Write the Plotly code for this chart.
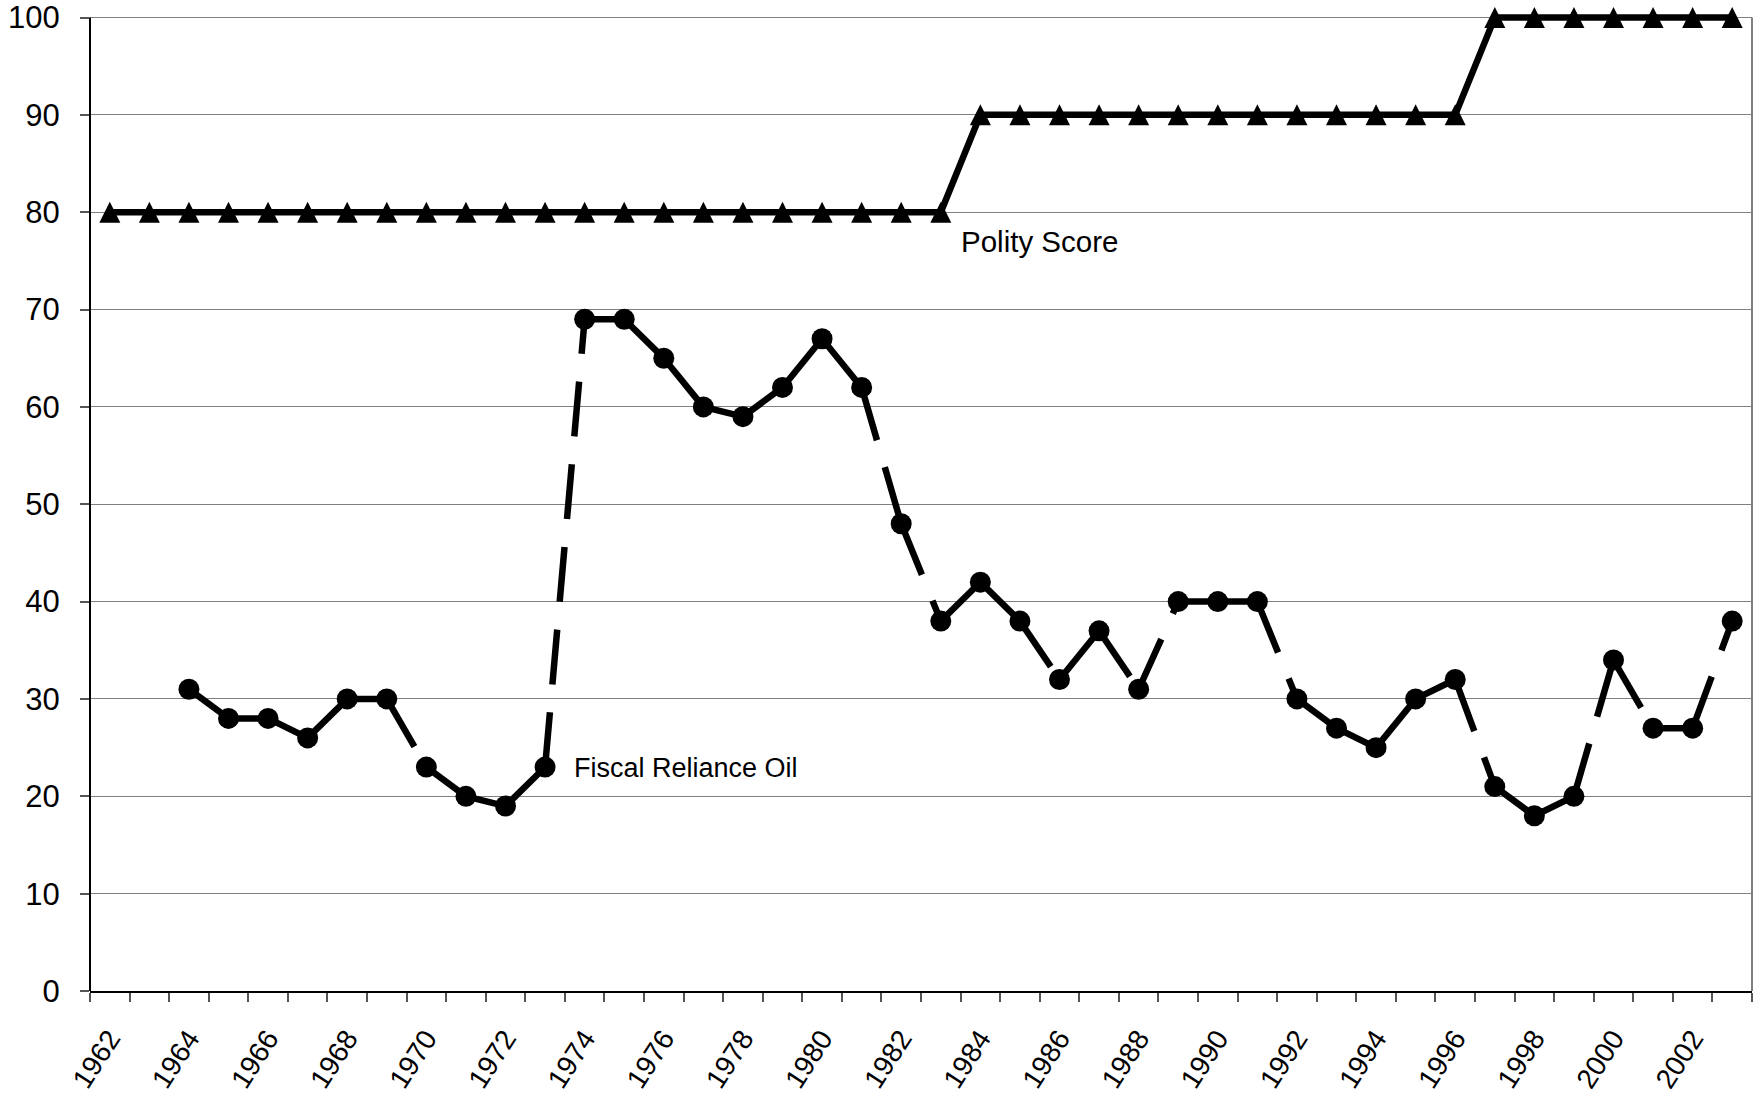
import plotly.graph_objects as go

# Annual observations, 1962-2003
years = list(range(1962, 2004))

polity_score = [
    80, 80, 80, 80, 80, 80, 80, 80, 80, 80, 80, 80, 80, 80, 80, 80, 80, 80, 80, 80, 80, 80,  # 1962-1983
    90, 90, 90, 90, 90, 90, 90, 90, 90, 90, 90, 90, 90,                                      # 1984-1996
    100, 100, 100, 100, 100, 100, 100,                                                       # 1997-2003
]

fiscal_reliance_oil = [
    None, None,                      # 1962-1963
    31, 28, 28, 26, 30, 30,          # 1964-1969
    23, 20, 19, 23, 69, 69,          # 1970-1975
    65, 60, 59, 62, 67, 62,          # 1976-1981
    48, 38, 42, 38, 32, 37,          # 1982-1987
    31, 40, 40, 40, 30, 27,          # 1988-1993
    25, 30, 32, 21, 18, 20,          # 1994-1999
    34, 27, 27, 38,                  # 2000-2003
]

even_years = [y for y in years if y % 2 == 0]
tick_labels = [str(y) for y in even_years]

FONT = "Liberation Sans, Arial, sans-serif"
Y_MAX = 100          # top of the value scale
Y_HEADROOM = 0.36    # small allowance so the line at 100 is not cut by the plot clip
TRI = 21             # triangle marker size (px)

# Split the fiscal series into separate sub-paths so the dash pattern
# restarts at every data point.
seg_x, seg_y = [], []
for i in range(len(years) - 1):
    a, b = fiscal_reliance_oil[i], fiscal_reliance_oil[i + 1]
    if a is not None and b is not None:
        seg_x += [years[i], years[i + 1], None]
        seg_y += [a, b, None]

fig = go.Figure()

# Polity score: solid line, then upward triangles centred on each point
fig.add_trace(go.Scatter(
    x=years, y=polity_score, mode="lines",
    line=dict(color="black", width=6.5),
    hoverinfo="skip", name="Polity Score",
))
fig.add_trace(go.Scatter(
    x=years, y=polity_score, mode="markers", cliponaxis=False,
    marker=dict(symbol="arrow-down", angle=180, size=TRI, standoff=TRI / 2,
                color="black", line=dict(color="black", width=0)),
    hoverinfo="x+y", name="Polity Score",
))

# Fiscal reliance on oil: dashed line with round markers
fig.add_trace(go.Scatter(
    x=seg_x, y=seg_y, mode="lines", connectgaps=False,
    line=dict(color="black", width=6.5, dash="55px,28px"),
    hoverinfo="skip", name="Fiscal Reliance Oil",
))
fig.add_trace(go.Scatter(
    x=years, y=fiscal_reliance_oil, mode="markers",
    marker=dict(symbol="circle", size=21, color="black"),
    hoverinfo="x+y", name="Fiscal Reliance Oil",
))

fig.add_annotation(x=1983.45, y=77, text="Polity Score", showarrow=False,
                   xanchor="left", yanchor="middle",
                   font=dict(family=FONT, size=29.5, color="black"))
fig.add_annotation(x=1973.69, y=22.9, text="Fiscal Reliance Oil", showarrow=False,
                   xanchor="left", yanchor="middle",
                   font=dict(family=FONT, size=27, color="black"))

# Left axis line and right-hand frame edge, both spanning 0-100
fig.add_shape(type="line", xref="paper", yref="y", x0=0, x1=0, y0=0, y1=Y_MAX,
              line=dict(color="black", width=2))
fig.add_shape(type="line", xref="paper", yref="y", x0=1, x1=1, y0=0, y1=Y_MAX,
              line=dict(color="#808080", width=2))

fig.update_layout(
    width=1758, height=1097,
    margin=dict(l=90, r=6, t=13.5, b=106),
    paper_bgcolor="white", plot_bgcolor="white",
    showlegend=False,
    font=dict(family=FONT, size=28, color="black"),
    xaxis=dict(
        range=[1961.5, 2003.5], automargin=False,
        tickmode="array", tickvals=even_years, ticktext=tick_labels,
        ticks="", tickangle=-57, ticklabelstandoff=18,
        tickfont=dict(family=FONT, size=28, color="black"),
        showgrid=False, zeroline=False,
        showline=True, linecolor="black", linewidth=2,
        minor=dict(ticks="outside", ticklen=9, tickwidth=1.5, tickcolor="#555555",
                   tick0=1961.5, dtick=1, showgrid=False),
    ),
    yaxis=dict(
        range=[0, Y_MAX + Y_HEADROOM], automargin=False,
        tickmode="linear", dtick=10, tick0=0,
        ticks="outside", ticklen=9, tickwidth=1.5, tickcolor="#555555",
        ticklabelstandoff=14,
        tickfont=dict(family=FONT, size=31, color="black"),
        showgrid=True, gridcolor="#808080", gridwidth=1.3,
        zeroline=False, showline=False,
    ),
)

fig.write_html("out.html")
